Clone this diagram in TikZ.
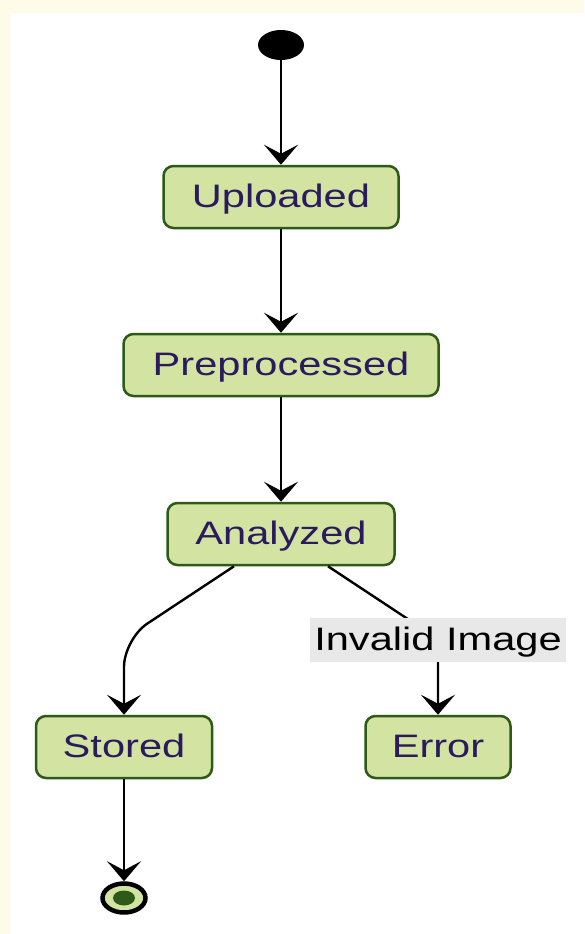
\documentclass[tikz,border=0pt]{standalone}
\usepackage{fontspec}
\usepackage{graphicx}
\setmainfont{Liberation Sans}
\usetikzlibrary{shapes.geometric,arrows.meta,calc}
\definecolor{cream}{HTML}{FFFBE9}
\definecolor{statefill}{HTML}{D3E3A1}
\definecolor{stateborder}{HTML}{2D5A17}
\definecolor{statetext}{HTML}{2A1A5E}
\definecolor{labelbg}{HTML}{E8E8E8}
\definecolor{enddot}{HTML}{2D5A17}
\newcommand\wlbl[1]{\scalebox{1.28}[1]{#1}}
\tikzset{
  statebox/.style={rectangle, rounded corners=10pt, draw=stateborder, line width=2.5pt,
    fill=statefill, text=statetext, minimum height=62pt, inner sep=0pt,
    text height=24pt, text depth=4pt,
    font=\fontsize{32.5}{32.5}\selectfont},
  edge/.style={draw=black, line width=2.4pt, -{Stealth[length=20pt,width=34pt,inset=9pt]}},
  edgelabel/.style={rectangle, fill=labelbg, inner sep=0pt, minimum width=256pt,
    minimum height=44pt, text=black, text height=24pt, text depth=4pt,
    font=\fontsize{32.5}{32.5}\selectfont}
}
\begin{document}
\begin{tikzpicture}[x=1pt,y=-1pt]
\fill[cream] (0,0) rectangle (584,934);
\fill[white] (10,13) rectangle (584,934);
\useasboundingbox (0,0) rectangle (584,934);

\node[ellipse, fill=black, minimum width=46pt, minimum height=30pt, inner sep=0pt] (start) at (281,45) {};
\node[statebox, minimum width=235pt] (up) at (281,197) {\wlbl{Uploaded}};
\node[statebox, minimum width=315pt] (pre) at (281,365) {\wlbl{Preprocessed}};
\node[statebox, minimum width=227pt] (an) at (281,534) {\wlbl{Analyzed}};
\node[statebox, minimum width=176pt] (st) at (124,747) {\wlbl{Stored}};
\node[statebox, minimum width=145pt] (err) at (438,747) {\wlbl{Error}};
\node[ellipse, draw=black, line width=4.5pt, fill=statefill, minimum width=43pt, minimum height=29pt, inner sep=0pt] (end) at (124,898) {};
\fill[enddot] (end.center) ellipse (11pt and 7.5pt);

\coordinate (c1) at (124,639);
\coordinate (c2) at (438,639);

\draw[edge] (start) -- (up);
\draw[edge] (up) -- (pre);
\draw[edge] (pre) -- (an);
\draw[edge, rounded corners=28pt] ([xshift=-47pt]an.south) -- (c1) -- (st.north);
\draw[edge, rounded corners=20pt] ([xshift=47pt]an.south) -- (c2) -- (err.north);
\node[edgelabel] (lbl) at (438,640) {\wlbl{Invalid Image}};
\draw[edge] (st) -- (end);
\end{tikzpicture}
\end{document}
